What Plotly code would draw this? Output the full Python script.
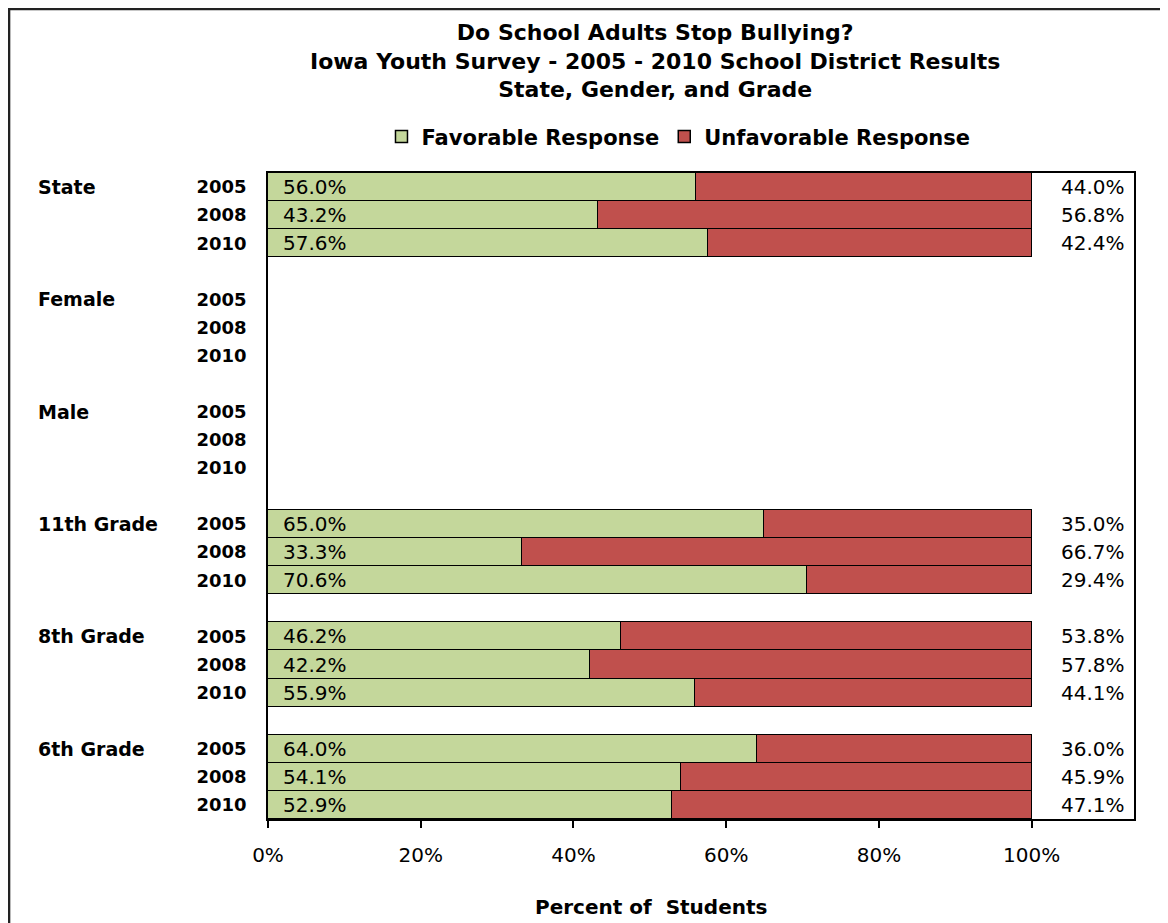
import plotly.graph_objects as go

# ---- data ----
groups = ["State", "Female", "Male", "11th Grade", "8th Grade", "6th Grade"]
years = ["2005", "2008", "2010"]
favorable = [56.0, 43.2, 57.6,
             None, None, None,
             None, None, None,
             65.0, 33.3, 70.6,
             46.2, 42.2, 55.9,
             64.0, 54.1, 52.9]
unfavorable = [44.0, 56.8, 42.4,
               None, None, None,
               None, None, None,
               35.0, 66.7, 29.4,
               53.8, 57.8, 44.1,
               36.0, 45.9, 47.1]
x_ticks = [0, 20, 40, 60, 80, 100]
x_tick_labels = ["0%", "20%", "40%", "60%", "80%", "100%"]

title_lines = ["Do School Adults Stop Bullying?",
               "Iowa Youth Survey - 2005 - 2010 School District Results",
               "State, Gender, and Grade"]
x_title = "Percent of  Students"

GREEN = "#C4D79B"
RED = "#C0504D"
FONT = "DejaVu Sans"

# row positions: 3 years per group plus one blank row between groups
rows = [g * 4 + j for g in range(len(groups)) for j in range(len(years))]
year_labels = [years[j] for g in range(len(groups)) for j in range(len(years))]

fig = go.Figure()
fig.add_trace(go.Bar(
    name="Favorable Response", y=rows, x=favorable, orientation="h",
    marker=dict(color=GREEN, line=dict(color="black", width=1.5)),
    width=1.0,
))
fig.add_trace(go.Bar(
    name="Unfavorable Response", y=rows, x=unfavorable, orientation="h",
    marker=dict(color=RED, line=dict(color="black", width=1.5)),
    width=1.0,
))

annotations = []
for r, v in zip(rows, favorable):
    if v is not None:
        annotations.append(dict(x=0, y=r, xref="x", yref="y", text=f"{v:.1f}%",
                                showarrow=False, xanchor="left", xshift=13,
                                font=dict(family=FONT, size=20, color="black")))
for r, v in zip(rows, unfavorable):
    if v is not None:
        annotations.append(dict(x=1, y=r, xref="paper", yref="y", text=f"{v:.1f}%",
                                showarrow=False, xanchor="right", xshift=-7,
                                font=dict(family=FONT, size=20, color="black")))
for g, name in enumerate(groups):
    annotations.append(dict(x=-0.268, y=g * 4, xref="paper", yref="y",
                            text=f"<b>{name}</b>", showarrow=False, xanchor="left",
                            font=dict(family=FONT, size=19, color="black")))
annotations.append(dict(x=0.447, y=1.2407, xref="paper", yref="paper",
                        text="<b>" + "<br>".join(title_lines) + "</b>",
                        showarrow=False, xanchor="center", yanchor="top",
                        font=dict(family=FONT, size=22, color="black")))
annotations.append(dict(x=0.442, y=-0.136, xref="paper", yref="paper",
                        text=f"<b>{x_title}</b>", showarrow=False,
                        xanchor="center", yanchor="middle",
                        font=dict(family=FONT, size=20, color="black")))

fig.update_layout(
    width=1168, height=923,
    margin=dict(l=260, r=42, t=165, b=112),
    barmode="stack", bargap=0,
    paper_bgcolor="white", plot_bgcolor="white",
    showlegend=True,
    legend=dict(orientation="h", x=0.474, xanchor="center", y=1.056, yanchor="middle",
                font=dict(family=FONT, size=21, color="black", weight="bold"),
                itemwidth=30, bgcolor="rgba(0,0,0,0)", traceorder="normal"),
    annotations=annotations,
    shapes=[dict(type="rect", xref="paper", yref="paper",
                 x0=-0.299, x1=1.06, y0=-0.2, y1=1.2539,
                 line=dict(color="#222222", width=2.5), layer="below")],
)
fig.update_xaxes(range=[0, 113.4], tickvals=x_ticks, ticktext=x_tick_labels,
                 showgrid=False, zeroline=False, showline=True, mirror=True,
                 linecolor="black", linewidth=1.5, ticks="outside", ticklen=7,
                 tickcolor="black", tickwidth=1.5, ticklabelstandoff=10,
                 tickfont=dict(family=FONT, size=20, color="black"))
fig.update_yaxes(range=[22.5, -0.5], tickvals=rows,
                 ticktext=[f"<b>{t}</b>" for t in year_labels],
                 showgrid=False, zeroline=False, showline=True, mirror=True,
                 linecolor="black", linewidth=1.5, ticks="", ticklabelstandoff=16,
                 tickfont=dict(family=FONT, size=18, color="black"))

fig.write_html("out.html")
